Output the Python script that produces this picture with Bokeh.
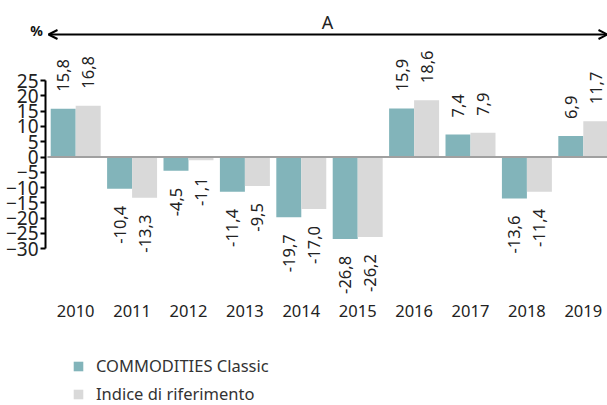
import math
from bokeh.plotting import figure
from bokeh.models import (ColumnDataSource, Range1d, FixedTicker, Arrow, OpenHead,
                          Label, Legend, LegendItem)
from bokeh.core.properties import value
from bokeh.embed import file_html
from bokeh.resources import INLINE

# ---- data ----
years = ["2010", "2011", "2012", "2013", "2014", "2015", "2016", "2017", "2018", "2019"]
fund = [15.8, -10.4, -4.5, -11.4, -19.7, -26.8, 15.9, 7.4, -13.6, 6.9]
bench = [16.8, -13.3, -1.1, -9.5, -17.0, -26.2, 18.6, 7.9, -11.4, 11.7]
series_names = ["COMMODITIES Classic", "Indice di riferimento"]
y_ticks = [25, 20, 15, 10, 5, 0, -5, -10, -15, -20, -25, -30]
top_label = "A"
unit_label = "%"

TEAL = "#82B4BA"
GREY = "#D9D9D9"
FONT = "Noto Sans"
TXT = "#222222"

n = len(years)
xs = [i + 0.5 for i in range(n)]
bw = 0.443

X0, X1 = -0.833, 9.929
Y0, Y1 = -81.34, 51.23

p = figure(width=607, height=405, output_backend="svg", toolbar_location=None,
           x_range=Range1d(X0, X1), y_range=Range1d(Y0, Y1),
           min_border_left=0, min_border_right=0, min_border_top=0, min_border_bottom=0)
p.outline_line_color = None
p.grid.visible = False
p.background_fill_color = "white"

src_f = ColumnDataSource(dict(x=[x - bw / 2 for x in xs], y=fund))
src_b = ColumnDataSource(dict(x=[x + bw / 2 for x in xs], y=bench))
r_f = p.vbar(x="x", top="y", bottom=0, width=bw, source=src_f, fill_color=TEAL, line_color=None)
r_b = p.vbar(x="x", top="y", bottom=0, width=bw, source=src_b, fill_color=GREY, line_color=None)

# zero line across the category area
p.add_layout(Arrow(x_start=0, y_start=0, x_end=X1, y_end=0, start=None, end=None,
                   line_color="#A0A0A0", line_width=2))

# value labels
def fmt(v):
    return f"{v:.1f}".replace(".", ",")

pos = dict(x=[], y=[], t=[])
neg = dict(x=[], y=[], t=[])
for src in (src_f, src_b):
    for x, v in zip(src.data["x"], src.data["y"]):
        d = pos if v >= 0 else neg
        d["x"].append(x); d["y"].append(v); d["t"].append(fmt(v))

p.text(x="x", y="y", text="t", source=ColumnDataSource(pos), angle=math.pi / 2,
       text_align="left", text_baseline="middle", y_offset=-17,
       text_font=value(FONT), text_font_size="16.5px", text_color=TXT)
p.text(x="x", y="y", text="t", source=ColumnDataSource(neg), angle=math.pi / 2,
       text_align="right", text_baseline="middle", y_offset=17,
       text_font=value(FONT), text_font_size="16.5px", text_color=TXT)

# axes (drawn at fixed positions inside the canvas)
xa = p.xaxis[0]
xa.fixed_location = -44.35
xa.ticker = FixedTicker(ticks=xs)
xa.major_label_overrides = {x: y for x, y in zip(xs, years)}
xa.axis_line_color = None
xa.major_tick_line_color = None
xa.minor_tick_line_color = None
xa.major_label_standoff = 7
xa.major_label_text_font = FONT
xa.major_label_text_font_size = "16.5px"
xa.major_label_text_color = TXT

ya = p.yaxis[0]
ya.fixed_location = -0.035
ya.ticker = FixedTicker(ticks=y_ticks)
ya.bounds = (min(y_ticks), max(y_ticks))
ya.axis_line_color = "black"
ya.axis_line_width = 2
ya.major_tick_line_color = "black"
ya.major_tick_line_width = 2
ya.major_tick_out = 5
ya.major_tick_in = 0
ya.minor_tick_line_color = None
ya.major_label_standoff = 2
ya.major_label_text_font = FONT
ya.major_label_text_font_size = "19px"
ya.major_label_text_color = TXT

# top arrow and labels
p.add_layout(Arrow(x_start=0.018, y_start=40.1, x_end=X1, y_end=40.1,
                   line_color="black", line_width=2,
                   start=OpenHead(size=9, line_width=2, line_color="black"),
                   end=OpenHead(size=9, line_width=2, line_color="black")))
p.add_layout(Label(x=4.965, y=44.2, text=top_label, text_align="center", text_baseline="middle",
                   text_font=FONT, text_font_size="18px", text_color=TXT))
p.add_layout(Label(x=-0.195, y=41.57, text=unit_label, text_align="center", text_baseline="middle",
                   text_font=FONT, text_font_size="14px", text_font_style="bold", text_color="#111111"))

legend = Legend(items=[LegendItem(label=series_names[0], renderers=[r_f]),
                       LegendItem(label=series_names[1], renderers=[r_b])],
                location=(72, 0), orientation="vertical",
                glyph_width=12, glyph_height=12, label_standoff=12, spacing=5,
                padding=0, margin=0, border_line_color=None, background_fill_alpha=0,
                label_text_font=FONT, label_text_font_size="16.5px", label_text_color="#333333")
p.add_layout(legend, "center")

open("out.html", "w").write(file_html(p, INLINE))
